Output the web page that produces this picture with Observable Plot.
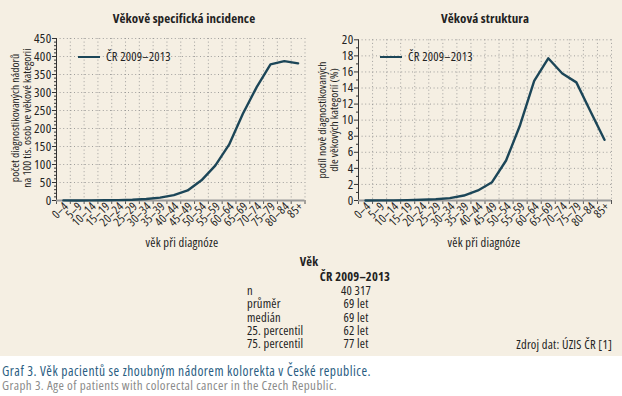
<!DOCTYPE html>
<html><head><meta charset="utf-8">
<script src="https://cdn.jsdelivr.net/npm/d3@7"></script>
<script src="https://cdn.jsdelivr.net/npm/@observablehq/plot@0.6"></script>
<style>
body{margin:0;background:#fff;font-family:"Open Sans",sans-serif;font-stretch:75%;}
#wrap{position:relative;width:622px;height:396px;overflow:hidden;}
#bg{position:absolute;left:0;top:0;width:622px;height:356px;background:#f5efe3;}
.abs{position:absolute;white-space:nowrap;color:#222;font-size:12.5px;line-height:12px;letter-spacing:0.2px;}
.ctr{transform:translate(-50%,-50%);}
.b{font-weight:bold;}
.ttl{font-size:13px;letter-spacing:0.1px;}
.rot{transform:translate(-50%,-50%) rotate(-90deg);text-align:center;font-size:11.5px;line-height:12px;letter-spacing:0;}
.plot{position:absolute;top:0;}
.sw{position:absolute;height:2.4px;background:#1c4658;}
.col{line-height:13.4px;}
.cap{font-size:13.5px;line-height:14px;letter-spacing:0.5px;}
.cap span{display:block;}
</style></head>
<body><div id="wrap"><div id="bg"></div></div>
<script>
const ageGroups = ["0–4","5–9","10–14","15–19","20–24","25–29","30–34","35–39","40–44","45–49","50–54","55–59","60–64","65–69","70–74","75–79","80–84","85+"];
const incidence = [0.3,0.2,0.3,0.5,1,2,4,8,15,28,56,97,155,241,315,378,387,381];
const structure = [0,0.01,0.02,0.05,0.1,0.15,0.3,0.62,1.25,2.28,4.98,9.4,14.9,17.7,15.8,14.7,11.1,7.55];
const legendLabel = "ČR 2009–2013";
const statLabels = ["n","průměr","medián","25. percentil","75. percentil"];
const statValues = ["40 317","69 let","69 let","62 let","77 let"];

const wrap = document.getElementById("wrap");
function add(html, cls, style){const d=document.createElement("div");d.className="abs "+cls;d.innerHTML=html;Object.assign(d.style,style||{});wrap.appendChild(d);return d;}

function chart(values, yMax, yStep, yMinor, mL, mR, mT, left){
  const n = ageGroups.length;
  const data = values.map((v,i)=>({i, v}));
  const idx = d3.range(n);
  const bounds = d3.range(n+1).map(k=>k-0.5);
  const ticks = d3.range(0, yMax+0.001, yStep);
  const minor = d3.range(0, yMax+0.001, yMinor).filter(t=>!ticks.includes(t));
  const p = Plot.plot({
    width: 311, height: 250, marginLeft: mL, marginRight: mR, marginTop: mT, marginBottom: 50,
    style: {background:"transparent", fontFamily:"'Open Sans', sans-serif", fontStretch:"75%", fontSize:"12px", color:"#222", overflow:"visible", letterSpacing:"0.3px"},
    x: {domain:[-0.5, n-0.5], axis:null},
    y: {domain:[0, yMax], axis:null},
    marks: [
      Plot.ruleY(ticks.slice(1), {stroke:"#8c8c8c", strokeWidth:0.8, strokeDasharray:"1,2.6"}),
      Plot.ruleX(bounds.slice(1), {stroke:"#8c8c8c", strokeWidth:0.8, strokeDasharray:"1,2.6"}),
      Plot.axisY(ticks, {tickSize:4, tickPadding:1, label:null, stroke:"#333", fill:"#222", fontSize:13}),
      Plot.axisY(minor, {tickSize:2, tickFormat:()=>"", label:null, stroke:"#333"}),
      Plot.axisX(bounds, {tickSize:4, tickFormat:()=>"", label:null, stroke:"#555"}),
      Plot.axisX(idx, {tickSize:0, tickPadding:4, tickRotate:-45, tickFormat:i=>ageGroups[i], label:null, fill:"#222", fontSize:12, dx:3}),
      Plot.ruleX([-0.5], {stroke:"#333", strokeWidth:1}),
      Plot.ruleY([0], {stroke:"#9a9a9a", strokeWidth:2}),
      Plot.line(data, {x:"i", y:"v", stroke:"#1c4658", strokeWidth:2.4, strokeLinejoin:"round"})
    ]
  });
  p.classList.add("plot");
  p.style.left = left+"px";
  wrap.appendChild(p);
}
chart(incidence, 450, 50, 10, 56, 6.5, 38, 0);
chart(structure, 20, 2, 1, 47, 11, 39.3, 311);

// titles
add("Věkově specifická incidence","b ctr ttl",{left:"184px",top:"18px"});
add("Věková struktura","b ctr ttl",{left:"485px",top:"18px"});
// y labels
add("počet diagnostikovaných nádorů<br>na 100 tis. osob ve věkové kategorii","rot",{left:"21px",top:"118px"});
add("podíl nově diagnostikovaných<br>dle věkových kategorií (%)","rot",{left:"328px",top:"120px"});
// x labels
add("věk při diagnóze","ctr",{left:"182px",top:"243px"});
add("věk při diagnóze","ctr",{left:"484px",top:"243px"});
// legends
[[78,106],[380,408]].forEach(([x,tx])=>{
  const s=document.createElement("div");s.className="sw";s.style.left=x+"px";s.style.top="56px";s.style.width="22px";wrap.appendChild(s);
  add(legendLabel,"",{left:tx+"px",top:"51px"});
});
// table
add("Věk","b ctr",{left:"309px",top:"262px"});
add(legendLabel,"b ctr",{left:"355px",top:"277px"});
add(statLabels.join("<br>"),"col",{left:"247px",top:"283.8px"});
add(statValues.join("<br>"),"col",{left:"321px",top:"283.8px",width:"70px",textAlign:"center"});
add("Zdroj dat: ÚZIS ČR [1]","",{right:"10px",top:"339px"});
// caption
add('<span style="color:#2a5d82">Graf 3. Věk pacientů se zhoubným nádorem kolorekta v České republice.</span>' +
    '<span style="color:#8a8a8a;font-size:13px;letter-spacing:0.4px">Graph 3. Age of patients with colorectal cancer in the Czech Republic.</span>',
    "cap",{left:"2px",top:"364px"});
</script></body></html>
